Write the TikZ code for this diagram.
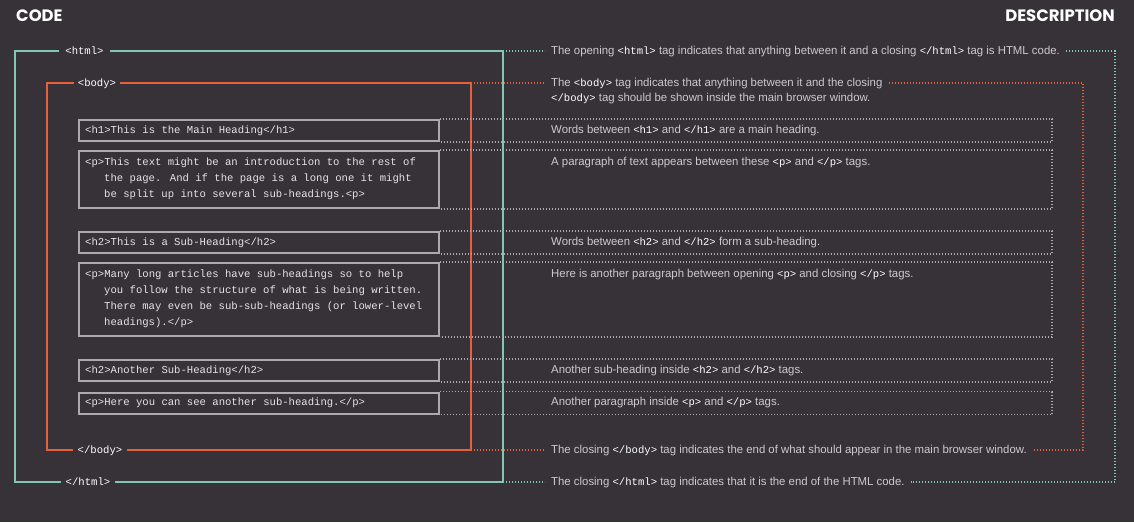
\documentclass[tikz,border=0pt]{standalone}
\usepackage{fontspec}
\setmainfont{Liberation Sans}[FakeStretch=0.99]
\newfontfamily\codefont{Liberation Mono}
\newfontfamily\headfont{Poppins}
\definecolor{bg}{HTML}{363238}
\definecolor{htmlc}{HTML}{80C8AF}
\definecolor{bodyc}{HTML}{E6603D}
\definecolor{boxc}{HTML}{ADA9B0}
\definecolor{descc}{HTML}{CCC9CE}
\definecolor{codec}{HTML}{E6E4E8}
\newcommand{\tg}[1]{{\codefont\fontsize{10.6}{12}\selectfont\color{white}#1}}
\tikzset{
  frametag/.style={font=\codefont\fontsize{10.6}{12}\selectfont, text=white, text height=7pt, text depth=0pt, inner ysep=0pt},
  codeline/.style={font=\codefont\fontsize{10.6}{12}\selectfont, text=codec, anchor=west, text height=7pt, text depth=0pt, inner sep=0pt},
  desc/.style={font=\fontsize{11.5}{14}\selectfont, text=descc, anchor=west, text height=7pt, text depth=0pt, inner xsep=6pt, inner ysep=0pt},
  codebox/.style={draw=boxc, line width=2pt, minimum width=360pt, inner sep=0pt},
  htmlline/.style={draw=htmlc, line width=2pt},
  bodyline/.style={draw=bodyc, line width=2pt},
  htmldot/.style={draw=htmlc, line width=1.6pt, dash pattern=on 1.2pt off 1.8pt},
  bodydot/.style={draw=bodyc, line width=1.6pt, dash pattern=on 1.2pt off 1.8pt},
  greydot/.style={draw=boxc, line width=1.6pt, dash pattern=on 1.2pt off 1.8pt},
  head/.style={font=\headfont\bfseries\fontsize{16.5}{19}\selectfont, text=white, inner sep=0pt}
}
\begin{document}
\begin{tikzpicture}[x=1pt,y=-1pt]
\useasboundingbox[fill=bg] (0,0) rectangle (1134,522);
% headers
\node[head, anchor=west] (codehead) at (16,16) {CODE};
\node[head, anchor=east] (deschead) at (1115,16) {DESCRIPTION};
% frame tags
\node[frametag, inner xsep=6.5pt] (htmlopen) at (84.5,51) {<html>};
\node[frametag, inner xsep=5pt] (htmlclose) at (88,482) {</html>};
\node[frametag, inner xsep=4pt] (bodyopen) at (97,83) {<body>};
\node[frametag, inner xsep=4.5pt] (bodyclose) at (100,450) {</body>};
% html frame
\draw[htmlline] (htmlopen.west) -- (15,51) -- (15,482) -- (htmlclose.west);
\draw[htmlline] (htmlopen.east) -- (503,51) -- (503,482) -- (htmlclose.east);
% body frame
\draw[bodyline] (bodyopen.west) -- (47,83) -- (47,450) -- (bodyclose.west);
\draw[bodyline] (bodyopen.east) -- (471,83) -- (471,450) -- (bodyclose.east);
% code boxes
\node[codebox, minimum height=21pt] (h1box) at (259,130.5) {};
\node[codebox, minimum height=57pt] (p1box) at (259,179.5) {};
\node[codebox, minimum height=21pt] (h2box) at (259,242.7) {};
\node[codebox, minimum height=73pt] (p2box) at (259,299.5) {};
\node[codebox, minimum height=21pt] (h2bbox) at (259,370.5) {};
\node[codebox, minimum height=21pt] (p3box) at (259,403) {};
% code text
\node[codeline] (h1txt) at (85,130) {<h1>This is the Main Heading</h1>};
\node[codeline] (p1a) at (85,162) {<p>This text might be an introduction to the rest of};
\node[codeline] (p1b) at (104,178) {the page. And if the page is a long one it might};
\node[codeline] (p1c) at (104,194) {be split up into several sub-headings.<p>};
\node[codeline] (h2txt) at (85,242) {<h2>This is a Sub-Heading</h2>};
\node[codeline] (p2a) at (85,274) {<p>Many long articles have sub-headings so to help};
\node[codeline] (p2b) at (104,290) {you follow the structure of what is being written.};
\node[codeline] (p2c) at (104,306) {There may even be sub-sub-headings (or lower-level};
\node[codeline] (p2d) at (104,322) {headings).</p>};
\node[codeline] (h2btxt) at (85,370) {<h2>Another Sub-Heading</h2>};
\node[codeline] (p3txt) at (85,402) {<p>Here you can see another sub-heading.</p>};
% descriptions
\node[desc] (htmldesc) at (545,51) {The opening \tg{<html>} tag indicates that anything between it and a closing \tg{</html>} tag is HTML code.};
\node[desc] (bodydesc) at (545,83) {The \tg{<body>} tag indicates that anything between it and the closing};
\node[desc] (bodydescb) at (545,98) {\tg{</body>} tag should be shown inside the main browser window.};
\node[desc] (h1desc) at (545,130) {Words between \tg{<h1>} and \tg{</h1>} are a main heading.};
\node[desc] (p1desc) at (545,162) {A paragraph of text appears between these \tg{<p>} and \tg{</p>} tags.};
\node[desc] (h2desc) at (545,242) {Words between \tg{<h2>} and \tg{</h2>} form a sub-heading.};
\node[desc] (p2desc) at (545,274) {Here is another paragraph between opening \tg{<p>} and closing \tg{</p>} tags.};
\node[desc] (h2bdesc) at (545,370) {Another sub-heading inside \tg{<h2>} and \tg{</h2>} tags.};
\node[desc] (p3desc) at (545,402) {Another paragraph inside \tg{<p>} and \tg{</p>} tags.};
\node[desc] (bodyclosedesc) at (545,450) {The closing \tg{</body>} tag indicates the end of what should appear in the main browser window.};
\node[desc] (htmlclosedesc) at (545,482) {The closing \tg{</html>} tag indicates that it is the end of the HTML code.};
% coordinates for right edges
\coordinate (greyR) at (1052,0);
\coordinate (bodyR) at (1083,0);
\coordinate (htmlR) at (1115,0);
% html connectors
\draw[htmldot] (503,51) -- (htmldesc.west);
\draw[htmldot] (htmldesc.east) -- (htmldesc.east -| htmlR) |- (htmlclosedesc.east);
\draw[htmldot] (503,482) -- (htmlclosedesc.west);
% body connectors
\draw[bodydot] (471,83) -- (bodydesc.west);
\draw[bodydot] (bodydesc.east) -- (bodydesc.east -| bodyR) |- (bodyclosedesc.east);
\draw[bodydot] (471,450) -- (bodyclosedesc.west);
% grey description boxes
\foreach \b in {h1box,p1box,h2box,p2box,h2bbox,p3box}{
  \draw[greydot] (\b.north east) -- (\b.north east -| greyR) -- (\b.south east -| greyR) -- (\b.south east);
}
\end{tikzpicture}
\end{document}
